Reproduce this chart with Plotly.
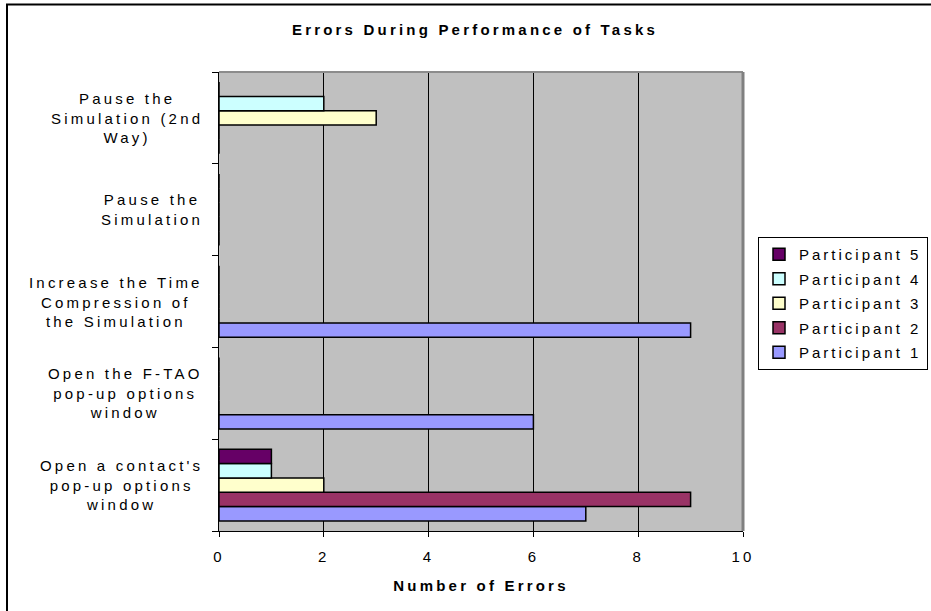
import plotly.graph_objects as go

# ---- data ----
tasks = [
    "Open a contact's pop-up options window",
    "Open the F-TAO pop-up options window",
    "Increase the Time Compression of the Simulation",
    "Pause the Simulation",
    "Pause the Simulation (2nd Way)",
]
task_labels = [
    "Open a contact's<br>pop-up options<br>window",
    "Open the F-TAO<br>pop-up options<br>window",
    "Increase the Time<br>Compression of<br>the Simulation",
    "Pause the<br>Simulation",
    "Pause the<br>Simulation (2nd<br>Way)",
]
participants = ["Participant 1", "Participant 2", "Participant 3", "Participant 4", "Participant 5"]
participant_1 = [7, 6, 9, 0, 0]
participant_2 = [9, 0, 0, 0, 0]
participant_3 = [2, 0, 0, 0, 3]
participant_4 = [1, 0, 0, 0, 2]
participant_5 = [1, 0, 0, 0, 0]
x_ticks = [0, 2, 4, 6, 8, 10]

series = [participant_1, participant_2, participant_3, participant_4, participant_5]
colors = ["#9999FF", "#993366", "#FFFFCC", "#CCFFFF", "#660066"]

W, H = 931, 611
L, R, T, B = 219, 931 - 743, 72, 611 - 531
pw, ph = W - L - R, H - T - B


def px_x(px):
    return (px - L) / pw


def px_y(py):
    return (H - B - py) / ph


fig = go.Figure()
n = len(participants)
for i, (name, vals, col) in enumerate(zip(participants, series, colors)):
    fig.add_trace(go.Bar(
        y=tasks, x=vals, name=name, orientation="h", legendgroup=name,
        legendrank=n - i,
        marker=dict(color=col, line=dict(color="black", width=1.5)),
    ))

annotations = []
for t, lab in zip(tasks, task_labels):
    annotations.append(dict(
        x=px_x(205), xref="paper", y=t, yref="y", text=lab, showarrow=False,
        xanchor="right", yanchor="middle", align="center",
        font=dict(size=15, color="black"),
    ))

shapes = [
    # outer chart border (clipped at right/bottom)
    dict(type="rect", xref="paper", yref="paper",
         x0=px_x(7), x1=px_x(1100), y0=px_y(900), y1=px_y(4.5),
         line=dict(color="black", width=2), fillcolor="rgba(0,0,0,0)", layer="above"),
    # plot area top / right border
    dict(type="line", xref="paper", yref="paper", x0=0, x1=1, y0=1, y1=1,
         line=dict(color="#8c8c8c", width=2), layer="above"),
    dict(type="line", xref="paper", yref="paper", x0=1, x1=1, y0=0, y1=1,
         line=dict(color="#808080", width=3), layer="above"),
]

fig.update_layout(
    width=W, height=H, autosize=False,
    margin=dict(l=L, r=R, t=T, b=B),
    paper_bgcolor="white", plot_bgcolor="#C0C0C0",
    font=dict(family="Liberation Sans, Arial, sans-serif", size=15, color="black"),
    title=dict(text="Errors During Performance of Tasks", x=px_x(475), xref="paper",
               xanchor="center", y=1 - 30 / H, yref="container", yanchor="middle",
               font=dict(size=15, weight="bold")),
    barmode="group", bargap=0.22, bargroupgap=0,
    showlegend=True,
    legend=dict(x=758 / W, xref="container", xanchor="left",
                y=1 - 237 / H, yref="container", yanchor="top",
                traceorder="grouped", tracegroupgap=2,
                bordercolor="black", borderwidth=1,
                bgcolor="white", font=dict(size=15)),
    xaxis=dict(range=[0, 10], tickvals=x_ticks, showgrid=True, gridcolor="black",
               gridwidth=1, showline=True, linecolor="black", linewidth=1,
               ticks="outside", ticklen=5, tickcolor="black", zeroline=False,
               automargin=False,
               ticklabelstandoff=7, tickfont=dict(size=15),
               title=dict(text="Number of Errors", font=dict(size=15, weight="bold"),
                          standoff=16)),
    yaxis=dict(type="category", categoryorder="array", categoryarray=tasks,
               range=[-0.5, 4.5], showticklabels=False, showgrid=False,
               automargin=False,
               showline=True, linecolor="black", linewidth=1, ticks="outside",
               tickson="boundaries", ticklen=6, tickcolor="black", zeroline=False),
    annotations=annotations,
    shapes=shapes,
)

post = """
document.body.style.margin = '0';
document.body.style.padding = '0';
var gd = document.getElementById('{plot_id}');
var st = document.createElement('style');
st.textContent = '.gtitle, .xtitle, .xtick text, .annotation-text {letter-spacing: 3.2px;} .legendtext {letter-spacing: 3px;}';
document.head.appendChild(st);
return Plotly.relayout(gd, {'font.family': 'Arial, "Liberation Sans", sans-serif'});
"""

fig.write_html("out.html", post_script=post, config={"displayModeBar": False})
